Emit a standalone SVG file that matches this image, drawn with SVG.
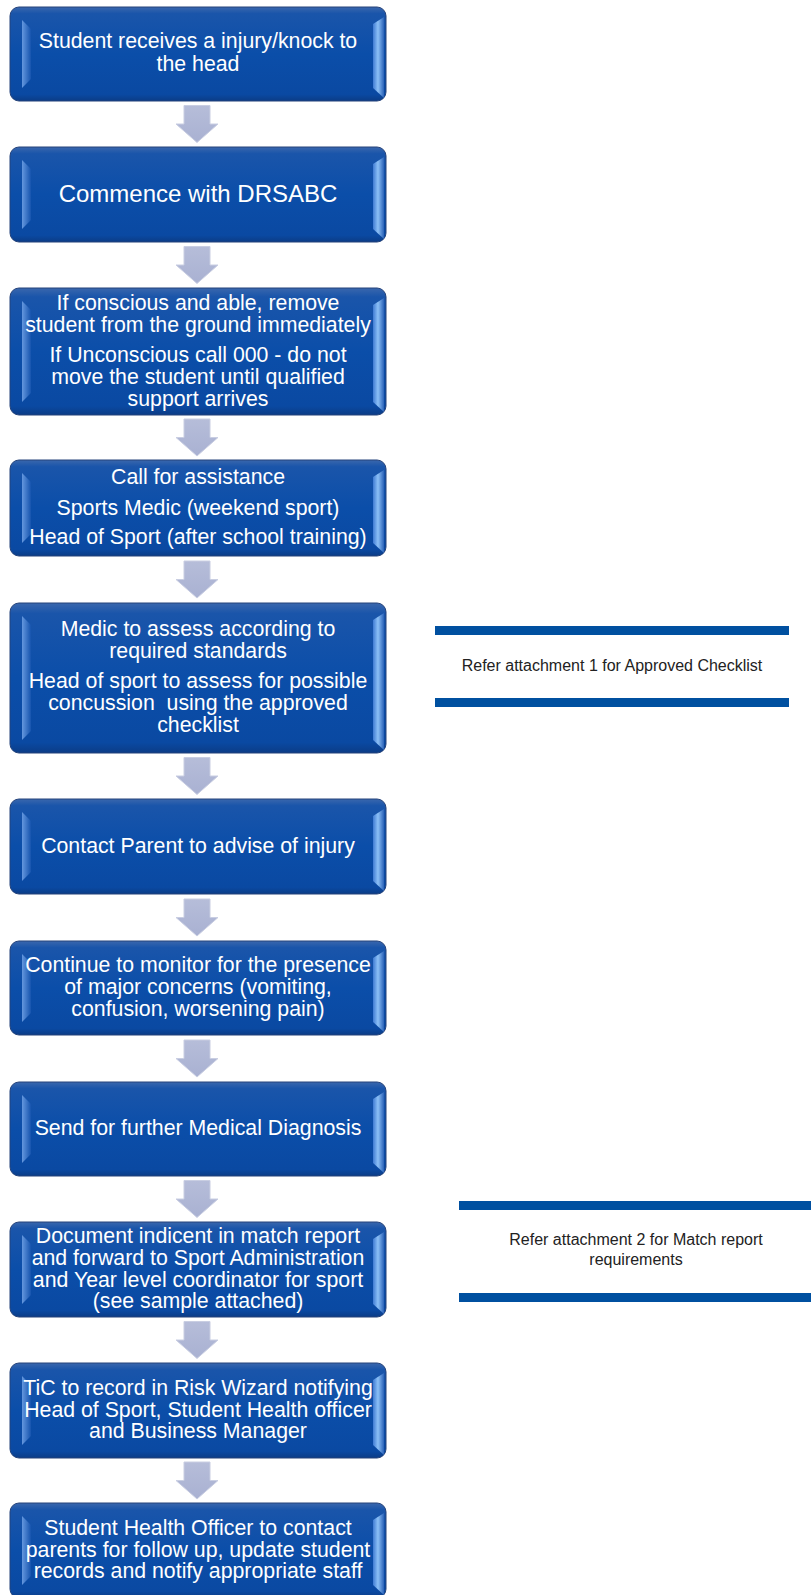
<svg xmlns="http://www.w3.org/2000/svg" width="811" height="1595" viewBox="0 0 811 1595">
<defs>
<linearGradient id="boxFill" x1="0" y1="0" x2="0" y2="1">
<stop offset="0" stop-color="#3a67ad"/>
<stop offset="0.07" stop-color="#1a55aa"/>
<stop offset="0.5" stop-color="#0b4ea9"/>
<stop offset="0.93" stop-color="#0a49a2"/>
<stop offset="1" stop-color="#0b3c86"/>
</linearGradient>
<linearGradient id="bevL" x1="0" y1="0" x2="1" y2="0">
<stop offset="0" stop-color="#6497de"/>
<stop offset="1" stop-color="#1654ae"/>
</linearGradient>
<linearGradient id="bevR" x1="0" y1="0" x2="1" y2="0">
<stop offset="0" stop-color="#3f7bd4"/>
<stop offset="0.45" stop-color="#8cc0f6"/>
<stop offset="1" stop-color="#2a62b8"/>
</linearGradient>
<linearGradient id="arrowFill" x1="0" y1="0" x2="0" y2="1">
<stop offset="0" stop-color="#b6bdd9"/>
<stop offset="1" stop-color="#a9b1d2"/>
</linearGradient>
<style>
.box{fill:url(#boxFill);stroke:#24427a;stroke-width:1}
.bl{fill:url(#bevL)}
.br{fill:url(#bevR)}
.t{font-family:"Liberation Sans",Arial,sans-serif;font-size:21.3px;fill:#ffffff;text-anchor:middle;white-space:pre}
.big{font-size:24px}
.arr{fill:url(#arrowFill);stroke:#c9cee2;stroke-width:1}
.bar{fill:#0050a0}
.n{font-family:"Liberation Sans",Arial,sans-serif;font-size:16px;fill:#222222;text-anchor:middle}
</style>
</defs>
<rect width="811" height="1595" fill="#ffffff"/>

<g id="connectors">
<polygon class="arr" points="184,105.5 210,105.5 210,124 218,124 197,142.5 176,124 184,124"/>
<polygon class="arr" points="184,246.5 210,246.5 210,265 218,265 197,283.5 176,265 184,265"/>
<polygon class="arr" points="184,419 210,419 210,437.5 218,437.5 197,456 176,437.5 184,437.5"/>
<polygon class="arr" points="184,561 210,561 210,579.5 218,579.5 197,598 176,579.5 184,579.5"/>
<polygon class="arr" points="184,757.5 210,757.5 210,776 218,776 197,794.5 176,776 184,776"/>
<polygon class="arr" points="184,899 210,899 210,917.5 218,917.5 197,936 176,917.5 184,917.5"/>
<polygon class="arr" points="184,1040 210,1040 210,1058.5 218,1058.5 197,1077 176,1058.5 184,1058.5"/>
<polygon class="arr" points="184,1180.5 210,1180.5 210,1199 218,1199 197,1217.5 176,1199 184,1199"/>
<polygon class="arr" points="184,1321.5 210,1321.5 210,1340 218,1340 197,1358.5 176,1340 184,1340"/>
<polygon class="arr" points="184,1462 210,1462 210,1480.5 218,1480.5 197,1499 176,1480.5 184,1480.5"/>
</g>

<g id="node-1">
<rect class="box" x="10" y="7" width="376" height="94" rx="9"/>
<polygon class="bl" points="22,20 31,29 31,79 22,88"/>
<polygon class="br" points="373,24 384,17 384,98 373,88"/>
<text class="t" x="198" y="48">Student receives a injury/knock to</text>
<text class="t" x="198" y="71">the head</text>
</g>

<g id="node-2">
<rect class="box" x="10" y="147" width="376" height="95" rx="9"/>
<polygon class="bl" points="22,160 31,169 31,220 22,229"/>
<polygon class="br" points="373,164 384,157 384,239 373,229"/>
<text class="t big" x="198" y="202">Commence with DRSABC</text>
</g>

<g id="node-3">
<rect class="box" x="10" y="288" width="376" height="127" rx="9"/>
<polygon class="bl" points="22,301 31,310 31,393 22,402"/>
<polygon class="br" points="373,305 384,298 384,412 373,402"/>
<text class="t" x="198" y="310">If conscious and able, remove</text>
<text class="t" x="198" y="332">student from the ground immediately</text>
<text class="t" x="198" y="362">If Unconscious call 000 - do not</text>
<text class="t" x="198" y="384">move the student until qualified</text>
<text class="t" x="198" y="406">support arrives</text>
</g>

<g id="node-4">
<rect class="box" x="10" y="460" width="376" height="96" rx="9"/>
<polygon class="bl" points="22,473 31,482 31,534 22,543"/>
<polygon class="br" points="373,477 384,470 384,553 373,543"/>
<text class="t" x="198" y="484">Call for assistance</text>
<text class="t" x="198" y="515">Sports Medic (weekend sport)</text>
<text class="t" x="198" y="544">Head of Sport (after school training)</text>
</g>

<g id="node-5">
<rect class="box" x="10" y="603" width="376" height="150" rx="9"/>
<polygon class="bl" points="22,616 31,625 31,731 22,740"/>
<polygon class="br" points="373,620 384,613 384,750 373,740"/>
<text class="t" x="198" y="636">Medic to assess according to</text>
<text class="t" x="198" y="658">required standards</text>
<text class="t" x="198" y="688">Head of sport to assess for possible</text>
<text class="t" x="198" y="710" xml:space="preserve">concussion  using the approved</text>
<text class="t" x="198" y="732">checklist</text>
</g>

<g id="node-6">
<rect class="box" x="10" y="799" width="376" height="95" rx="9"/>
<polygon class="bl" points="22,812 31,821 31,872 22,881"/>
<polygon class="br" points="373,816 384,809 384,891 373,881"/>
<text class="t" x="198" y="853">Contact Parent to advise of injury</text>
</g>

<g id="node-7">
<rect class="box" x="10" y="941" width="376" height="94" rx="9"/>
<polygon class="bl" points="22,954 31,963 31,1013 22,1022"/>
<polygon class="br" points="373,958 384,951 384,1032 373,1022"/>
<text class="t" x="198" y="972">Continue to monitor for the presence</text>
<text class="t" x="198" y="994">of major concerns (vomiting,</text>
<text class="t" x="198" y="1016">confusion, worsening pain)</text>
</g>

<g id="node-8">
<rect class="box" x="10" y="1082" width="376" height="94" rx="9"/>
<polygon class="bl" points="22,1095 31,1104 31,1154 22,1163"/>
<polygon class="br" points="373,1099 384,1092 384,1173 373,1163"/>
<text class="t" x="198" y="1135">Send for further Medical Diagnosis</text>
</g>

<g id="node-9">
<rect class="box" x="10" y="1222" width="376" height="95" rx="9"/>
<polygon class="bl" points="22,1235 31,1244 31,1295 22,1304"/>
<polygon class="br" points="373,1239 384,1232 384,1314 373,1304"/>
<text class="t" x="198" y="1243">Document indicent in match report</text>
<text class="t" x="198" y="1265">and forward to Sport Administration</text>
<text class="t" x="198" y="1287">and Year level coordinator for sport</text>
<text class="t" x="198" y="1308">(see sample attached)</text>
</g>

<g id="node-10">
<rect class="box" x="10" y="1363" width="376" height="95" rx="9"/>
<polygon class="bl" points="22,1376 31,1385 31,1436 22,1445"/>
<polygon class="br" points="373,1380 384,1373 384,1455 373,1445"/>
<text class="t" x="198" y="1395">TiC to record in Risk Wizard notifying</text>
<text class="t" x="198" y="1417">Head of Sport, Student Health officer</text>
<text class="t" x="198" y="1438">and Business Manager</text>
</g>

<g id="node-11">
<rect class="box" x="10" y="1503" width="376" height="95" rx="9"/>
<polygon class="bl" points="22,1516 31,1525 31,1576 22,1585"/>
<polygon class="br" points="373,1520 384,1513 384,1595 373,1585"/>
<text class="t" x="198" y="1535">Student Health Officer to contact</text>
<text class="t" x="198" y="1557">parents for follow up, update student</text>
<text class="t" x="198" y="1578">records and notify appropriate staff</text>
</g>

<g id="note-1">
<rect class="bar" x="435" y="626" width="354" height="9"/>
<rect class="bar" x="435" y="698" width="354" height="9"/>
<text class="n" x="612" y="671">Refer attachment 1 for Approved Checklist</text>
</g>

<g id="note-2">
<rect class="bar" x="459" y="1201" width="352" height="9"/>
<rect class="bar" x="459" y="1293" width="352" height="9"/>
<text class="n" x="636" y="1245">Refer attachment 2 for Match report</text>
<text class="n" x="636" y="1265">requirements</text>
</g>
</svg>
